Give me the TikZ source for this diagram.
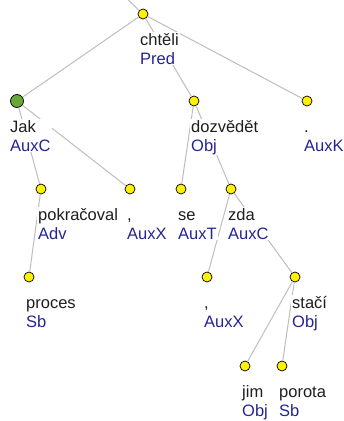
\documentclass[tikz,border=0pt]{standalone}
\usepackage{fontspec}
\setmainfont{Liberation Sans}
\definecolor{edgegray}{RGB}{190,190,190}
\definecolor{funcblue}{RGB}{36,36,150}
\definecolor{wordgray}{RGB}{30,30,30}
\definecolor{rootgreen}{RGB}{104,168,52}
\tikzset{
  tok/.style={circle, draw=black, line width=0.7pt, fill=yellow, inner sep=0pt, minimum size=10pt},
  toproot/.style={tok, fill=rootgreen, minimum size=13pt},
  edge/.style={draw=edgegray, line width=1pt},
  lab/.style={anchor=base west, align=left, fill=white, inner sep=1pt,
    font=\fontsize{16.5}{19}\selectfont, text=wordgray},
}
\newcommand{\fn}[1]{\textcolor{funcblue}{#1}}
\begin{document}
\begin{tikzpicture}[x=1pt, y=-1pt]
  \useasboundingbox[fill=white] (0,0) rectangle (344,421);
  % tokens
  \coordinate (up) at (122,-6);
  \node[tok] (chteli) at (143,14) {};
  \node[toproot] (jak) at (17,101) {};
  \node[tok] (dozvedet) at (194,101) {};
  \node[tok] (tecka) at (307,101) {};
  \node[tok] (pokracoval) at (41,189) {};
  \node[tok] (carka1) at (130,189) {};
  \node[tok] (se) at (181,189) {};
  \node[tok] (zda) at (231,189) {};
  \node[tok] (proces) at (29,277) {};
  \node[tok] (carka2) at (207,277) {};
  \node[tok] (staci) at (295,277) {};
  \node[tok] (jim) at (245,366) {};
  \node[tok] (porota) at (282,366) {};
  % edges
  \draw[edge] (up) -- (chteli);
  \draw[edge] (chteli) -- (jak);
  \draw[edge] (chteli) -- (dozvedet);
  \draw[edge] (chteli) -- (tecka);
  \draw[edge] (jak) -- (pokracoval);
  \draw[edge] (jak) -- (carka1);
  \draw[edge] (pokracoval) -- (proces);
  \draw[edge] (dozvedet) -- (se);
  \draw[edge] (dozvedet) -- (zda);
  \draw[edge] (zda) -- (carka2);
  \draw[edge] (zda) -- (staci);
  \draw[edge] (staci) -- (jim);
  \draw[edge] (staci) -- (porota);
  % labels (base = second line)
  \node[lab] (l-chteli) at ([shift={(-4,50)}]chteli.center) {chtěli\\\fn{Pred}};
  \node[lab] (l-jak) at ([shift={(-8,50)}]jak.center) {Jak\\\fn{AuxC}};
  \node[lab] (l-dozvedet) at ([shift={(-4,50)}]dozvedet.center) {dozvědět\\\fn{Obj}};
  \node[lab] (l-tecka) at ([shift={(-4,50)}]tecka.center) {.\\\fn{AuxK}};
  \node[lab] (l-pokracoval) at ([shift={(-4,50)}]pokracoval.center) {pokračoval\\\fn{Adv}};
  \node[lab] (l-carka1) at ([shift={(-4,50)}]carka1.center) {,\\\fn{AuxX}};
  \node[lab] (l-se) at ([shift={(-4,50)}]se.center) {se\\\fn{AuxT}};
  \node[lab] (l-zda) at ([shift={(-4,50)}]zda.center) {zda\\\fn{AuxC}};
  \node[lab] (l-proces) at ([shift={(-4,50)}]proces.center) {proces\\\fn{Sb}};
  \node[lab] (l-carka2) at ([shift={(-4,50)}]carka2.center) {,\\\fn{AuxX}};
  \node[lab] (l-staci) at ([shift={(-4,50)}]staci.center) {stačí\\\fn{Obj}};
  \node[lab] (l-jim) at ([shift={(-4,50)}]jim.center) {jim\\\fn{Obj}};
  \node[lab] (l-porota) at ([shift={(-4,50)}]porota.center) {porota\\\fn{Sb}};
\end{tikzpicture}
\end{document}
